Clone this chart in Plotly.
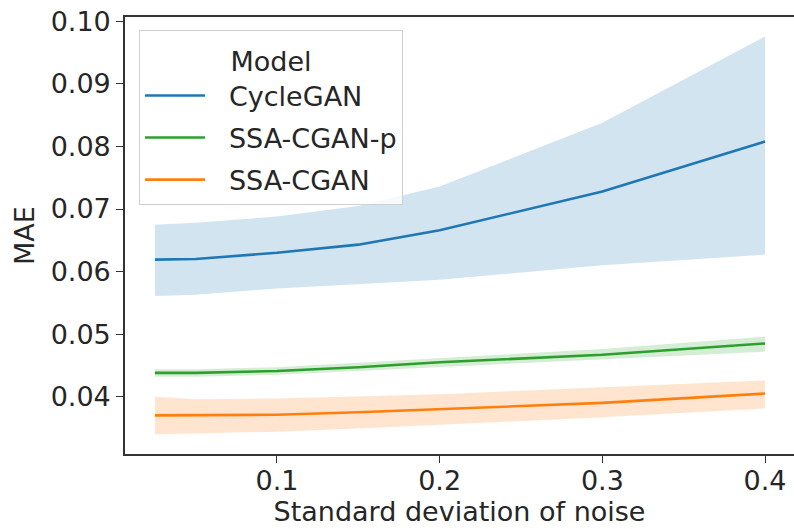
import plotly.graph_objects as go

noise_std = [0.025, 0.05, 0.1, 0.15, 0.2, 0.3, 0.4]

models = ["CycleGAN", "SSA-CGAN-p", "SSA-CGAN"]

cyclegan_mean = [0.0619, 0.0620, 0.0630, 0.0643, 0.0666, 0.0728, 0.0808]
cyclegan_upper = [0.0675, 0.0678, 0.0688, 0.0705, 0.0736, 0.0838, 0.0976]
cyclegan_lower = [0.0561, 0.0563, 0.0573, 0.0580, 0.0587, 0.0610, 0.0627]

ssa_p_mean = [0.0438, 0.0438, 0.0441, 0.0447, 0.0455, 0.0467, 0.0485]
ssa_p_upper = [0.0444, 0.0444, 0.0447, 0.0454, 0.0462, 0.0476, 0.0496]
ssa_p_lower = [0.0432, 0.0432, 0.0435, 0.0441, 0.0448, 0.0459, 0.0472]

ssa_mean = [0.0370, 0.0370, 0.0371, 0.0375, 0.0380, 0.0390, 0.0405]
ssa_upper = [0.0400, 0.0396, 0.0397, 0.0400, 0.0404, 0.0415, 0.0426]
ssa_lower = [0.0340, 0.0341, 0.0344, 0.0349, 0.0355, 0.0367, 0.0381]

x_tick_vals = [0.1, 0.2, 0.3, 0.4]
x_tick_text = ["0.1", "0.2", "0.3", "0.4"]
y_tick_vals = [0.04, 0.05, 0.06, 0.07, 0.08, 0.09, 0.10]
y_tick_text = ["0.04", "0.05", "0.06", "0.07", "0.08", "0.09", "0.10"]

series = [
    ("CycleGAN", cyclegan_mean, cyclegan_upper, cyclegan_lower, "#1f77b4", "rgba(31,119,180,0.2)"),
    ("SSA-CGAN-p", ssa_p_mean, ssa_p_upper, ssa_p_lower, "#2ca02c", "rgba(44,160,44,0.2)"),
    ("SSA-CGAN", ssa_mean, ssa_upper, ssa_lower, "#ff7f0e", "rgba(255,127,14,0.2)"),
]

FONT = "DejaVu Sans"
TXT = "#262626"
FS = 27

fig = go.Figure()
for name, mean, up, lo, col, fillcol in series:
    fig.add_trace(go.Scatter(x=noise_std, y=up, mode="lines", line=dict(width=0, color=fillcol),
                             showlegend=False, hoverinfo="skip", legendgroup=name))
    fig.add_trace(go.Scatter(x=noise_std, y=lo, mode="lines", line=dict(width=0, color=fillcol),
                             fill="tonexty", fillcolor=fillcol, showlegend=False,
                             hoverinfo="skip", legendgroup=name))
for name, mean, up, lo, col, fillcol in series:
    fig.add_trace(go.Scatter(x=noise_std, y=mean, mode="lines", name="\u2002\u2009" + name,
                             line=dict(width=2.6, color=col), legendgroup=name))

fig.update_layout(
    width=794, height=529,
    margin=dict(l=125, r=0, t=17, b=75, autoexpand=False),
    paper_bgcolor="white", plot_bgcolor="white",
    font=dict(family=FONT, size=FS, color=TXT),
    legend=dict(
        x=0.021, y=0.97, xanchor="left", yanchor="top",
        bgcolor="rgba(255,255,255,0.8)", bordercolor="#d0d0d0", borderwidth=1,
        title=dict(text="<span style='font-size:27px'>Model</span>", side="top center",
                   font=dict(family=FONT, size=31, color=TXT)),
        font=dict(family=FONT, size=FS, color=TXT),
        tracegroupgap=4, itemwidth=60,
    ),
    xaxis=dict(
        range=[0.0066, 0.4178], tickvals=x_tick_vals, ticktext=x_tick_text,
        showgrid=False, zeroline=False, showline=True, linecolor="#333", linewidth=1.6,
        mirror=True, ticks="outside", ticklen=7, tickwidth=1.4, tickcolor="#333",
        automargin=False, ticklabelstandoff=-5,
        title=dict(text="Standard deviation of noise", standoff=6,
                   font=dict(family=FONT, size=FS, color=TXT)),
        tickfont=dict(family=FONT, size=FS, color=TXT),
    ),
    yaxis=dict(
        range=[0.03083, 0.1007], tickvals=y_tick_vals, ticktext=y_tick_text,
        showgrid=False, zeroline=False, showline=True, linecolor="#333", linewidth=1.6,
        mirror=False, ticks="outside", ticklen=7, tickwidth=1.4, tickcolor="#333",
        automargin=False,
        title=dict(text="MAE", standoff=8, font=dict(family=FONT, size=FS, color=TXT)),
        tickfont=dict(family=FONT, size=FS, color=TXT),
    ),
)

fig.write_html("out.html", config={"displayModeBar": False},
               post_script="document.body.style.margin='0';")
